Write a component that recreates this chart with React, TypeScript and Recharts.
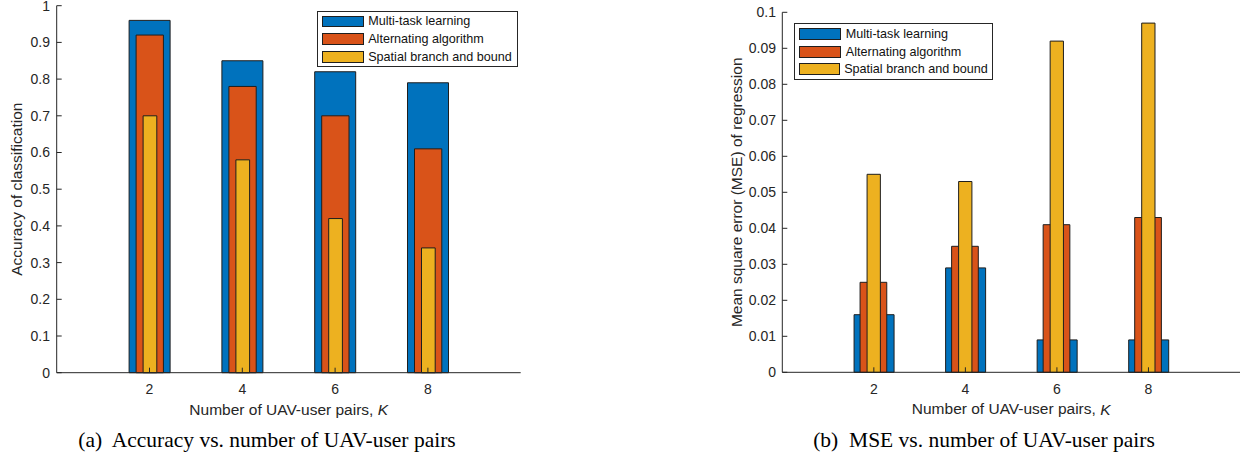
import React from 'react'
import { BarChart, Bar, XAxis, YAxis, Legend } from 'recharts'

// K values on the x axis
const pairs = ['2', '4', '6', '8']

// (a) classification accuracy
const accMultiTask = [0.96, 0.85, 0.82, 0.79]
const accAlternating = [0.92, 0.78, 0.7, 0.61]
const accBranchBound = [0.7, 0.58, 0.42, 0.34]
const accTicks = [0, 0.1, 0.2, 0.3, 0.4, 0.5, 0.6, 0.7, 0.8, 0.9, 1]

// (b) regression MSE
const mseMultiTask = [0.016, 0.029, 0.009, 0.009]
const mseAlternating = [0.025, 0.035, 0.041, 0.043]
const mseBranchBound = [0.055, 0.053, 0.092, 0.097]
const mseTicks = [0, 0.01, 0.02, 0.03, 0.04, 0.05, 0.06, 0.07, 0.08, 0.09, 0.1]

const seriesNames = ['Multi-task learning', 'Alternating algorithm', 'Spatial branch and bound']

const COLORS = ['#0072BD', '#D95319', '#EDB120']
const INK = '#262626'
const EDGE = '#1e1e1e'
const FONT = '"Liberation Sans", Arial, Helvetica, sans-serif'
const SERIF = '"Liberation Serif", "Times New Roman", serif'

// the svg starts a bit above the page so the top tick label is not clipped
const LIFT = 10
const SVG_H = 440

const accData = pairs.map((k, i) => ({
  k,
  mtl: accMultiTask[i],
  alt: accAlternating[i],
  sbb: accBranchBound[i]
}))

const mseData = pairs.map((k, i) => ({
  k,
  mtl: mseMultiTask[i],
  alt: mseAlternating[i],
  sbb: mseBranchBound[i]
}))

// eslint-disable-next-line @typescript-eslint/no-explicit-any
function XTitle({ viewBox }: any) {
  const { x, y, width } = viewBox
  return (
    <text
      x={x + width / 2}
      y={y + 36.6}
      textAnchor="middle"
      dominantBaseline="central"
      fontFamily={FONT}
      fontSize={15.5}
      fill={INK}
    >
      Number of UAV-user pairs, <tspan fontStyle="italic">K</tspan>
    </text>
  )
}

// eslint-disable-next-line @typescript-eslint/no-explicit-any
function YTitle({ viewBox, text, gap }: any) {
  const cx = viewBox.x + viewBox.width - gap
  const cy = viewBox.y + viewBox.height / 2
  return (
    <text
      x={cx}
      y={cy}
      transform={`rotate(-90, ${cx}, ${cy})`}
      textAnchor="middle"
      dominantBaseline="central"
      fontFamily={FONT}
      fontSize={15.5}
      fill={INK}
    >
      {text}
    </text>
  )
}

// eslint-disable-next-line @typescript-eslint/no-explicit-any
function BoxLegend({ payload, width }: any) {
  // keep the plotting order, not alphabetical
  // eslint-disable-next-line @typescript-eslint/no-explicit-any
  const items = [...(payload || [])].sort((a: any, b: any) => seriesNames.indexOf(a.value) - seriesNames.indexOf(b.value))
  return (
    <div
      style={{
        border: `1px solid ${INK}`,
        background: '#fff',
        padding: '1px 4px',
        width,
        boxSizing: 'border-box',
        fontFamily: FONT,
        fontSize: 12.6,
        color: '#111'
      }}
    >
      {/* eslint-disable-next-line @typescript-eslint/no-explicit-any */}
      {items.map((p: any) => (
        <div key={p.value} style={{ display: 'flex', alignItems: 'center', height: 17.6, whiteSpace: 'nowrap' }}>
          <span
            style={{
              display: 'inline-block',
              width: 42,
              height: 11.7,
              background: p.color,
              border: `1px solid ${EDGE}`,
              boxSizing: 'border-box',
              marginRight: 4.5
            }}
          />
          <span>{p.value}</span>
        </div>
      ))}
    </div>
  )
}

interface PanelProps {
  // eslint-disable-next-line @typescript-eslint/no-explicit-any
  data: any[]
  yTicks: number[]
  yMax: number
  yLabel: string
  yLabelGap: number
  width: number
  top: number
  right: number
  plotBottom: number
  yAxisWidth: number
  unit: number
  barSizes: number[]
  tickGap: number
  legendLeft: number
  legendTop: number
  legendWidth: number
}

function Panel({
  data,
  yTicks,
  yMax,
  yLabel,
  yLabelGap,
  width,
  top,
  right,
  plotBottom,
  yAxisWidth,
  unit,
  barSizes,
  tickGap,
  legendLeft,
  legendTop,
  legendWidth
}: PanelProps) {
  const pad = { left: unit, right: unit }
  const tickStyle = { fill: INK, fontSize: 14, fontFamily: FONT }
  const lineStyle = { stroke: INK, strokeWidth: 1 }
  const xAxisHeight = 28
  const bottom = SVG_H - (plotBottom + LIFT) - xAxisHeight

  return (
    <BarChart width={width} height={SVG_H} data={data} margin={{ top: top + LIFT, right, left: 0, bottom }}>
      <XAxis
        xAxisId="mtl"
        dataKey="k"
        height={xAxisHeight}
        padding={pad}
        tickSize={-5}
        tickMargin={16.7}
        tick={tickStyle}
        axisLine={lineStyle}
        tickLine={lineStyle}
        interval={0}
        label={<XTitle />}
      />
      <XAxis xAxisId="alt" dataKey="k" padding={pad} height={0} hide />
      <XAxis xAxisId="sbb" dataKey="k" padding={pad} height={0} hide />
      <XAxis
        xAxisId="top"
        dataKey="k"
        orientation="top"
        mirror
        height={0}
        padding={pad}
        tickSize={5}
        tick={false}
        axisLine={lineStyle}
        tickLine={lineStyle}
        interval={0}
      />
      <YAxis
        yAxisId="left"
        type="number"
        domain={[0, yMax]}
        ticks={yTicks}
        interval={0}
        width={yAxisWidth}
        tickSize={-5}
        tickMargin={tickGap}
        tick={tickStyle}
        axisLine={lineStyle}
        tickLine={lineStyle}
        label={<YTitle text={yLabel} gap={yLabelGap} />}
      />
      <YAxis
        yAxisId="right"
        orientation="right"
        mirror
        width={0}
        type="number"
        domain={[0, yMax]}
        ticks={yTicks}
        interval={0}
        tickSize={5}
        tick={false}
        axisLine={lineStyle}
        tickLine={lineStyle}
      />
      <Legend
        layout="vertical"
        align="center"
        verticalAlign="middle"
        wrapperStyle={{ left: legendLeft, top: legendTop + LIFT, width: legendWidth }}
        content={<BoxLegend width={legendWidth} />}
      />
      <Bar
        xAxisId="mtl"
        yAxisId="left"
        dataKey="mtl"
        name={seriesNames[0]}
        fill={COLORS[0]}
        stroke={EDGE}
        strokeWidth={1}
        barSize={barSizes[0]}
        isAnimationActive={false}
      />
      <Bar
        xAxisId="alt"
        yAxisId="left"
        dataKey="alt"
        name={seriesNames[1]}
        fill={COLORS[1]}
        stroke={EDGE}
        strokeWidth={1}
        barSize={barSizes[1]}
        isAnimationActive={false}
      />
      <Bar
        xAxisId="sbb"
        yAxisId="left"
        dataKey="sbb"
        name={seriesNames[2]}
        fill={COLORS[2]}
        stroke={EDGE}
        strokeWidth={1}
        barSize={barSizes[2]}
        isAnimationActive={false}
      />
    </BarChart>
  )
}

const captionStyle: React.CSSProperties = {
  position: 'absolute',
  top: 426,
  width: 440,
  textAlign: 'center',
  fontFamily: SERIF,
  fontSize: 21.5,
  lineHeight: '28px',
  color: '#000',
  whiteSpace: 'pre'
}

export default function App() {
  return (
    <div style={{ position: 'absolute', left: 0, top: 0, width: 1245, height: 457, background: '#fff', overflow: 'hidden' }}>
      <div style={{ position: 'absolute', left: 0, top: -LIFT }}>
        <Panel
          data={accData}
          yTicks={accTicks}
          yMax={1}
          yLabel="Accuracy of classification"
          yLabelGap={40}
          width={530}
          top={5.7}
          right={9.3}
          plotBottom={372.7}
          yAxisWidth={56.7}
          unit={46.4}
          barSizes={[41, 27.3, 13.7]}
          tickGap={11.7}
          legendLeft={316.7}
          legendTop={10.7}
          legendWidth={201.6}
        />
      </div>
      <div style={{ position: 'absolute', left: 700, top: -LIFT }}>
        <Panel
          data={mseData}
          yTicks={mseTicks}
          yMax={0.1}
          yLabel="Mean square error (MSE) of regression"
          yLabelGap={45.6}
          width={545}
          top={12.3}
          right={5}
          plotBottom={372.3}
          yAxisWidth={82.3}
          unit={45.77}
          barSizes={[40, 26.7, 13.3]}
          tickGap={11.3}
          legendLeft={94.3}
          legendTop={23.3}
          legendWidth={198.4}
        />
      </div>
      <div style={{ ...captionStyle, left: 267 - 220 }}>{'(a)  Accuracy vs. number of UAV-user pairs'}</div>
      <div style={{ ...captionStyle, left: 984 - 220 }}>{'(b)  MSE vs. number of UAV-user pairs'}</div>
    </div>
  )
}
